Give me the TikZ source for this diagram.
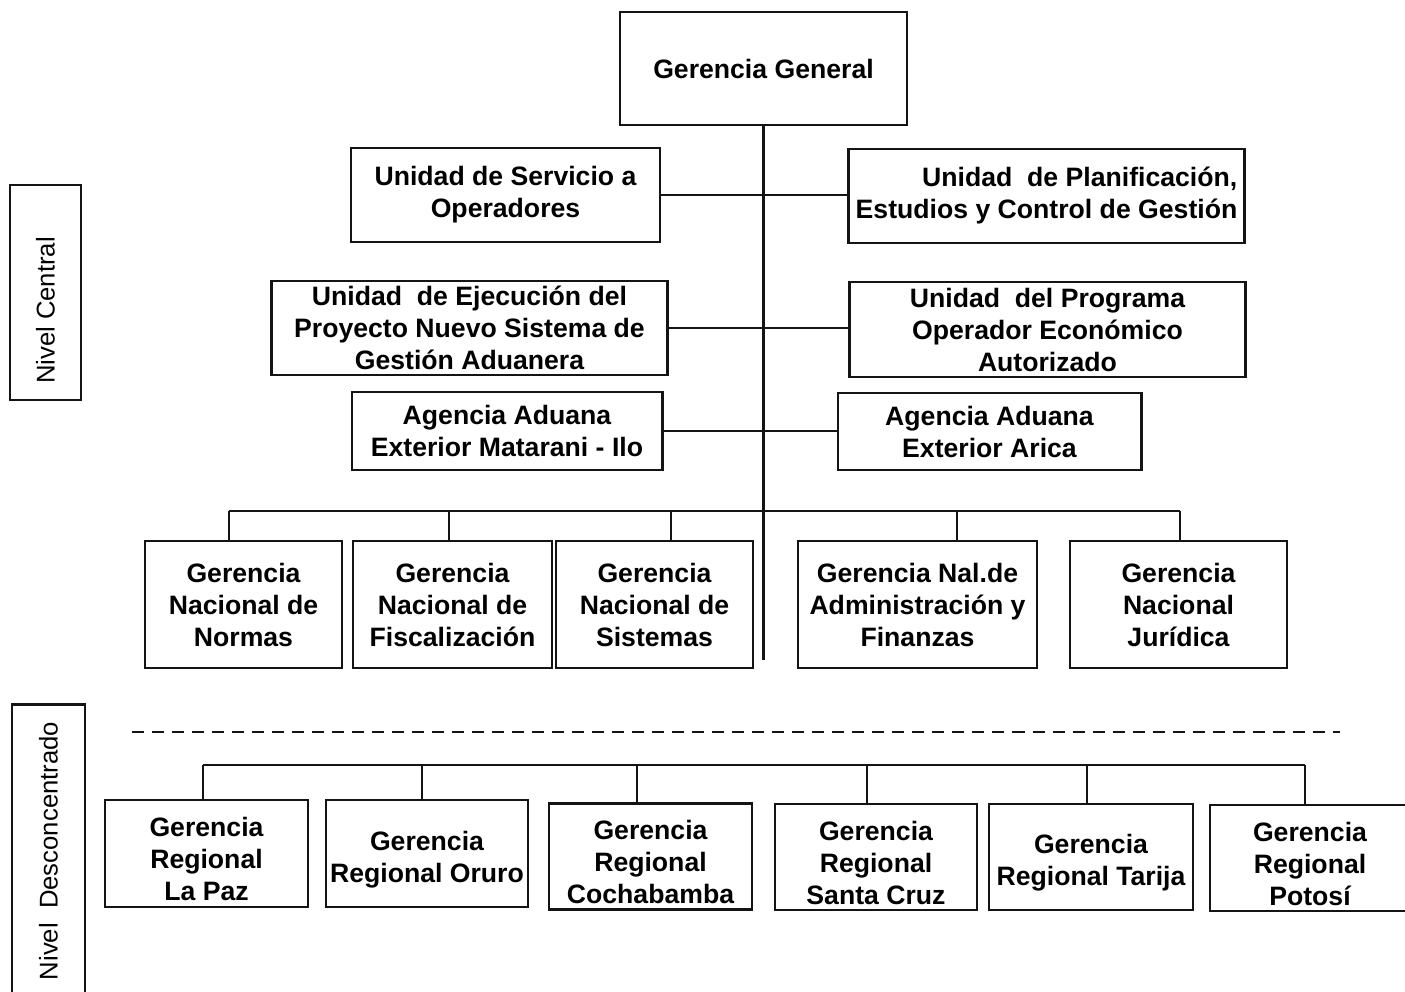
\documentclass[tikz,border=0pt]{standalone}
\usepackage{fontspec}
\setmainfont{Liberation Sans}
\definecolor{ChartInk}{HTML}{141414}
\newcommand{\regionstrut}{\rule{0pt}{.31cm}}

\begin{document}
\begin{tikzpicture}[
  x=0.01cm,
  y=-0.01cm,
  line cap=butt,
  line join=miter,
  every node/.style={font=\fontsize{7.57}{9.1}\selectfont\bfseries,text=black},
  unitbox/.style={draw=ChartInk,line width=.8pt,inner sep=0pt,align=center},
  levelbox/.style={draw=ChartInk,line width=.8pt,inner sep=0pt,rotate=90,
    font=\fontsize{7.3}{9}\selectfont},
  link/.style={draw=ChartInk,line width=.65pt}
]
  \pgfmathsetmacro{\nationalrow}{604.5}
  \pgfmathsetmacro{\nationalbus}{511}
  \pgfmathsetmacro{\regionalbus}{765}

  \useasboundingbox (0,0) rectangle (1405,992);

  \node[levelbox,minimum width=2.15cm,minimum height=.71cm] (central)
    at (45.5,292.5) {Nivel Central\hspace*{.36cm}};
  \node[levelbox,minimum width=2.92cm,minimum height=.73cm] (desconc)
    at (48.5,851) {Nivel\ \ Desconcentrado};

  \node[unitbox,minimum width=2.87cm,minimum height=1.13cm] (general)
    at (763.5,68.5) {Gerencia General};
  \node[unitbox,minimum width=3.09cm,minimum height=.94cm] (servicio)
    at (505.5,195) {Unidad de Servicio a\\Operadores};
  \node[unitbox,align=right,minimum width=3.95cm,minimum height=.94cm] (planif)
    at (1046.5,196) {Unidad\ \ de Planificación,\\Estudios y Control de Gestión};
  \node[unitbox,minimum width=3.95cm,minimum height=.94cm] (ejecucion)
    at (469.5,328) {Unidad\ \ de Ejecución del\\Proyecto Nuevo Sistema de\\Gestión Aduanera};
  \node[unitbox,minimum width=3.95cm,minimum height=.95cm] (programa)
    at (1047.5,329.5) {Unidad\ \ del Programa\\Operador Económico\\Autorizado};
  \node[unitbox,minimum width=3.10cm,minimum height=.78cm] (matarani)
    at (507,431) {Agencia Aduana\\Exterior Matarani - Ilo};
  \node[unitbox,minimum width=3.03cm,minimum height=.77cm] (arica)
    at (989.5,431.5) {Agencia Aduana\\Exterior Arica};

  \node[unitbox,minimum width=1.97cm,minimum height=1.27cm] (normas)
    at (243.5,\nationalrow) {Gerencia\\Nacional de\\Normas};
  \node[unitbox,minimum width=1.99cm,minimum height=1.27cm] (fiscal)
    at (452.5,\nationalrow) {Gerencia\\Nacional de\\Fiscalización};
  \node[unitbox,minimum width=1.97cm,minimum height=1.27cm] (sistemas)
    at (654.5,\nationalrow) {Gerencia\\Nacional de\\Sistemas};
  \node[unitbox,minimum width=2.39cm,minimum height=1.27cm] (finanzas)
    at (917.5,\nationalrow) {Gerencia Nal.de\\Administración y\\Finanzas};
  \node[unitbox,minimum width=2.17cm,minimum height=1.27cm] (juridica)
    at (1178.5,\nationalrow) {Gerencia\\Nacional\\Jurídica};

  \node[unitbox,minimum width=2.03cm,minimum height=1.07cm] (lapaz)
    at (206.5,853.5) {\regionstrut Gerencia\\Regional\\La Paz};
  \node[unitbox,minimum width=2.02cm,minimum height=1.07cm] (oruro)
    at (427,853.5) {\regionstrut Gerencia\\Regional Oruro};
  \node[unitbox,minimum width=2.03cm,minimum height=1.06cm] (cochabamba)
    at (650.5,856.5) {\regionstrut Gerencia\\Regional\\Cochabamba};
  \node[unitbox,minimum width=2.02cm,minimum height=1.06cm] (santacruz)
    at (876,857) {\regionstrut Gerencia\\Regional\\Santa Cruz};
  \node[unitbox,minimum width=2.04cm,minimum height=1.06cm] (tarija)
    at (1091,857) {\regionstrut Gerencia\\Regional Tarija};
  \node[unitbox,minimum width=2.00cm,minimum height=1.06cm] (potosi)
    at (1310,858) {\regionstrut Gerencia\\Regional\\Potosí};

  \coordinate (trunkend) at (762,660);
  \draw[link] (general.south) -- (general.south |- trunkend);
  \draw[link] (servicio.east) -- (servicio.east -| planif.west);
  \draw[link] (ejecucion.east) -- (ejecucion.east -| programa.west);
  \draw[link] (matarani.east) -- (matarani.east -| arica.west);

  \coordinate (dropnormas) at (229,\nationalbus);
  \coordinate (dropfiscal) at (449,\nationalbus);
  \coordinate (dropsistemas) at (671,\nationalbus);
  \coordinate (dropfinanzas) at (957,\nationalbus);
  \coordinate (dropjuridica) at (1180,\nationalbus);
  \draw[link] (dropnormas) -- (dropjuridica);
  \draw[link] (dropnormas) -- (dropnormas |- normas.north);
  \draw[link] (dropfiscal) -- (dropfiscal |- fiscal.north);
  \draw[link] (dropsistemas) -- (dropsistemas |- sistemas.north);
  \draw[link] (dropfinanzas) -- (dropfinanzas |- finanzas.north);
  \draw[link] (dropjuridica) -- (dropjuridica |- juridica.north);

  \coordinate (sepleft) at (132,732);
  \coordinate (sepright) at (1340,732);
  \draw[link,line width=.8pt,dash pattern=on .12cm off .08cm] (sepleft) -- (sepright);

  \coordinate (droplapaz) at (203,\regionalbus);
  \coordinate (droporuro) at (422,\regionalbus);
  \coordinate (dropcochabamba) at (637,\regionalbus);
  \coordinate (dropsantacruz) at (867,\regionalbus);
  \coordinate (droptarija) at (1087,\regionalbus);
  \coordinate (droppotosi) at (1305,\regionalbus);
  \draw[link] (droplapaz) -- (droppotosi);
  \draw[link] (droplapaz) -- (droplapaz |- lapaz.north);
  \draw[link] (droporuro) -- (droporuro |- oruro.north);
  \draw[link] (dropcochabamba) -- (dropcochabamba |- cochabamba.north);
  \draw[link] (dropsantacruz) -- (dropsantacruz |- santacruz.north);
  \draw[link] (droptarija) -- (droptarija |- tarija.north);
  \draw[link] (droppotosi) -- (droppotosi |- potosi.north);
\end{tikzpicture}
\end{document}
